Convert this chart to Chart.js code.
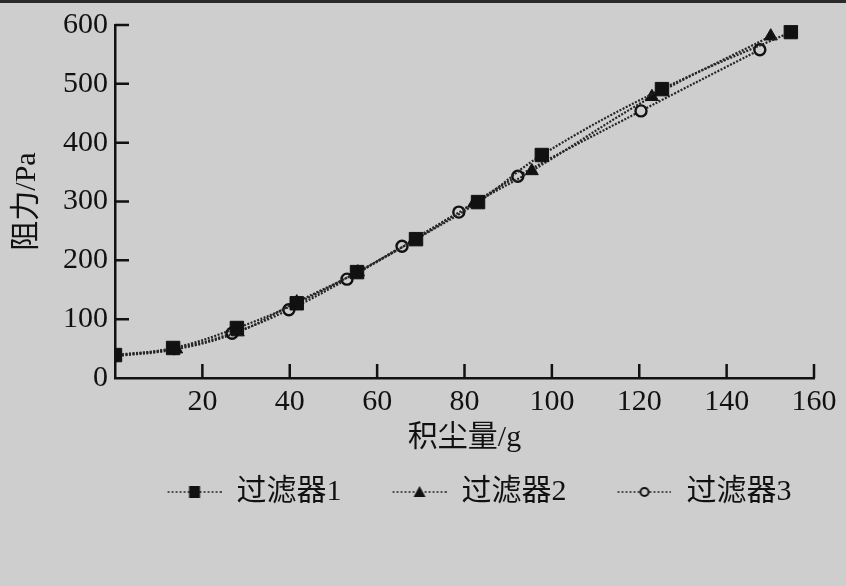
<!DOCTYPE html>
<html>
<head>
<meta charset="utf-8">
<script src="https://cdn.jsdelivr.net/npm/chart.js@4"></script>
<style>
  html, body { margin: 0; padding: 0; background: #cecece; }
  #wrap { position: relative; width: 846px; height: 586px; }
  #topbar { position: absolute; left: 0; top: 0; width: 846px; height: 3px; background: #2a2a2a; }
</style>
</head>
<body>
<div id="wrap">
  <canvas id="dustChart" width="846" height="586"></canvas>
  <div id="topbar"></div>
</div>
<script>
// values
const seriesNames = ['过滤器1', '过滤器2', '过滤器3'];

const dust1 = [0, 13.3, 27.9, 41.6, 55.4, 68.9, 83.1, 97.7, 125.2, 154.7];
const drag1 = [39, 51, 85, 127, 180, 236, 299, 379, 491, 588];

const dust2 = [0, 14, 28.1, 41.6, 55.6, 68.6, 82.2, 95.4, 122.9, 150.1];
const drag2 = [37, 49, 78, 129, 180, 235, 297, 352, 478, 581];

const dust3 = [0, 13.5, 26.8, 39.8, 53.1, 65.7, 78.7, 92.2, 120.4, 147.6];
const drag3 = [38, 50, 76, 116, 168, 224, 282, 343, 454, 558];

const xTicks = [20, 40, 60, 80, 100, 120, 140, 160];
const yTicks = [0, 100, 200, 300, 400, 500, 600];

const bg = '#cecece';
const ink = '#111';
const lineInk = '#262626';
const fontFamily = '"Liberation Serif", "Noto Sans CJK SC", serif';

function toPoints(xs, ys) {
    return xs.map((x, i) => ({ x: x, y: ys[i] }));
}

// legend icon: dotted line with the marker in the middle (blank lead-in on the left)
const iconLead = 30;
function legendIcon(kind) {
    const c = document.createElement('canvas');
    c.width = iconLead + 54; c.height = 20;
    const g = c.getContext('2d');
    g.strokeStyle = '#444';
    g.lineWidth = 1.8;
    g.setLineDash([2, 2]);
    g.beginPath(); g.moveTo(iconLead, 10); g.lineTo(iconLead + 54, 10); g.stroke();
    g.setLineDash([]);
    const cx = iconLead + 27, cy = 10;
    g.fillStyle = ink;
    g.strokeStyle = ink;
    if (kind === 'rect') {
        g.fillRect(cx - 5.5, cy - 6, 11, 12);
    } else if (kind === 'triangle') {
        g.beginPath(); g.moveTo(cx, cy - 6); g.lineTo(cx + 6, cy + 5); g.lineTo(cx - 6, cy + 5); g.closePath(); g.fill();
    } else {
        g.fillStyle = bg; g.lineWidth = 2;
        g.beginPath(); g.arc(cx, cy, 4, 0, Math.PI * 2); g.fill(); g.stroke();
    }
    return c;
}
const icons = [legendIcon('rect'), legendIcon('triangle'), legendIcon('circle')];

// tick marks point into the plot
const innerTicks = {
    id: 'innerTicks',
    beforeDatasetsDraw(chart) {
        const { ctx, chartArea, scales } = chart;
        ctx.save();
        ctx.strokeStyle = ink;
        ctx.lineWidth = 2.5;
        ctx.beginPath();
        yTicks.forEach(v => {
            if (v === 0) return;
            const y = scales.y.getPixelForValue(v);
            ctx.moveTo(chartArea.left, y);
            ctx.lineTo(chartArea.left + 14, y);
        });
        xTicks.forEach(v => {
            const x = scales.x.getPixelForValue(v);
            ctx.moveTo(x, chartArea.bottom);
            ctx.lineTo(x, chartArea.bottom - 14);
        });
        ctx.stroke();
        ctx.restore();
    }
};

function lineSet(label, pts, style, radius) {
    return {
        label: label,
        data: pts,
        showLine: true,
        borderColor: lineInk,
        borderWidth: 2.2,
        borderDash: [2, 1.5],
        tension: 0.4,
        pointStyle: style,
        pointRadius: radius,
        pointHoverRadius: radius,
        pointBackgroundColor: style === 'circle' ? bg : ink,
        pointBorderColor: ink,
        pointBorderWidth: style === 'circle' ? 2.4 : 1
    };
}

const ctx = document.getElementById('dustChart').getContext('2d');
new Chart(ctx, {
    type: 'scatter',
    data: {
        datasets: [
            lineSet(seriesNames[0], toPoints(dust1, drag1), 'rect', 9.5),
            lineSet(seriesNames[1], toPoints(dust2, drag2), 'triangle', 7.5),
            lineSet(seriesNames[2], toPoints(dust3, drag3), 'circle', 5.5)
        ]
    },
    options: {
        responsive: false,
        animation: false,
        layout: { padding: { left: 0, right: 32, top: 25, bottom: 69 } },
        plugins: {
            tooltip: { enabled: false },
            legend: {
                position: 'bottom',
                fullSize: false,
                labels: {
                    usePointStyle: true,
                    pointStyleWidth: iconLead + 54,
                    padding: 21,
                    color: ink,
                    font: { family: fontFamily, size: 30 },
                    generateLabels(chart) {
                        const items = Chart.defaults.plugins.legend.labels.generateLabels(chart);
                        items.forEach((it, i) => { it.pointStyle = icons[i]; });
                        return items;
                    }
                }
            }
        },
        scales: {
            x: {
                type: 'linear',
                min: 0, max: 160,
                afterFit(scale) { scale.height = 78; },
                afterBuildTicks(scale) { scale.ticks = [0].concat(xTicks).map(v => ({ value: v })); },
                grid: { display: false, drawTicks: false },
                border: { display: true, color: ink, width: 2.5 },
                ticks: {
                    color: ink,
                    padding: 6,
                    maxRotation: 0,
                    font: { family: fontFamily, size: 30 },
                    callback: v => (v === 0 ? '' : v)
                },
                title: {
                    display: true,
                    text: '积尘量/g',
                    color: ink,
                    padding: { top: 0, bottom: 0 },
                    font: { family: fontFamily, size: 30 }
                }
            },
            y: {
                min: 0, max: 600,
                afterFit(scale) { scale.width = 115; },
                afterBuildTicks(scale) { scale.ticks = yTicks.map(v => ({ value: v })); },
                grid: { display: false, drawTicks: false },
                border: { display: true, color: ink, width: 2.5 },
                ticks: {
                    color: ink,
                    padding: 7,
                    font: { family: fontFamily, size: 30 }
                },
                title: {
                    display: true,
                    text: '阻力/Pa',
                    color: ink,
                    padding: { top: 9, bottom: 9 },
                    font: { family: fontFamily, size: 30 }
                }
            }
        }
    },
    plugins: [innerTicks]
});
</script>
</body>
</html>
